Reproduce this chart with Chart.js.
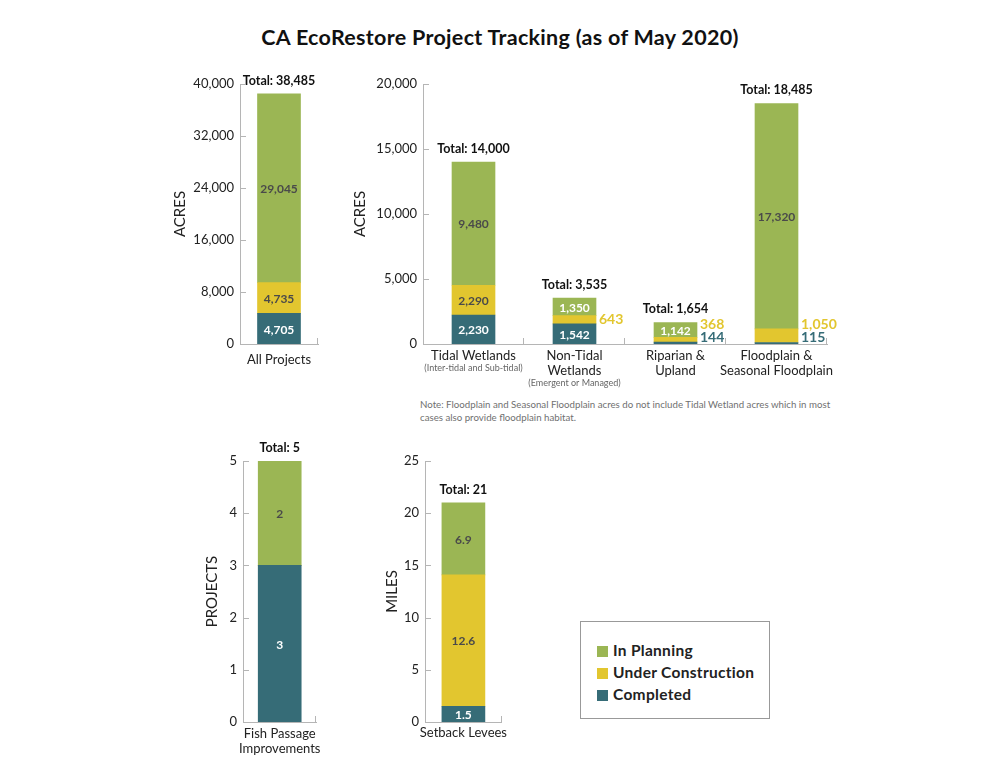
<!DOCTYPE html>
<html>
<head>
<meta charset="utf-8">
<script src="https://cdn.jsdelivr.net/npm/chart.js@4.4.1/dist/chart.umd.min.js"></script>
<style>
  body { margin: 0; background: #fff; font-family: Lato, sans-serif; }
  #page { position: relative; width: 1000px; height: 773px; overflow: hidden; }
  #page canvas { position: absolute; }
  h1 { position: absolute; left: 0; top: 24px; width: 1000px; margin: 0; text-align: center;
       font-size: 21.5px; letter-spacing: 0.3px; font-weight: 700; color: #111; }
  #note { position: absolute; left: 420px; top: 398px; font-size: 9.7px; line-height: 13px; color: #707070; }
  #legend { position: absolute; left: 580px; top: 621px; width: 188px; height: 96px; border: 1px solid #999; }
  .item { position: absolute; left: 16px; height: 16px; font-size: 15.5px; letter-spacing: 0.3px; font-weight: 700;
          color: #222; line-height: 16px; }
  .item span { display: inline-block; width: 11px; height: 11px; margin-right: 5px; vertical-align: -1px; }
</style>
</head>
<body>
<div id="page">
  <h1>CA EcoRestore Project Tracking (as of May 2020)</h1>
  <canvas id="c1" width="180" height="330" style="left:150px;top:60px"></canvas>
  <canvas id="c2" width="520" height="330" style="left:330px;top:60px"></canvas>
  <canvas id="c3" width="170" height="330" style="left:160px;top:440px"></canvas>
  <canvas id="c4" width="175" height="330" style="left:340px;top:440px"></canvas>
  <div id="note">Note: Floodplain and Seasonal Floodplain acres do not include Tidal Wetland acres which in most<br>cases also provide floodplain habitat.</div>
  <div id="legend"></div>
</div>
<script>
const seriesNames = ["In Planning", "Under Construction", "Completed"];
const seriesColors = ["#9bb654", "#e2c62f", "#366c77"];

// All projects (acres)
const allCategories = ["All Projects"];
const allPlanning = [29045];
const allConstruction = [4735];
const allCompleted = [4705];

// By habitat type (acres)
const habitatCategories = ["Tidal Wetlands", ["Non-Tidal", "Wetlands"], ["Riparian &", "Upland"], ["Floodplain &", "Seasonal Floodplain"]];
const habitatSubLabels = ["(Inter-tidal and Sub-tidal)", "(Emergent or Managed)", "", ""];
const habitatPlanning = [9480, 1350, 1142, 17320];
const habitatConstruction = [2290, 643, 368, 1050];
const habitatCompleted = [2230, 1542, 144, 115];

// Fish passage (projects)
const fishCategories = [["Fish Passage", "Improvements"]];
const fishPlanning = [2];
const fishConstruction = [0];
const fishCompleted = [3];

// Setback levees (miles)
const leveeCategories = ["Setback Levees"];
const leveePlanning = [6.9];
const leveeConstruction = [12.6];
const leveeCompleted = [1.5];

const fmt = v => v.toLocaleString("en-US");

const valueLabels = {
    id: "valueLabels",
    afterDatasetsDraw(chart) {
        const ctx = chart.ctx;
        const yScale = chart.scales.y;
        ctx.save();
        chart.data.labels.forEach((lab, i) => {
            let outsideY = yScale.bottom - 7;
            let total = 0, topY = yScale.bottom, barX = 0, barRight = 0;
            chart.data.datasets.forEach((ds, d) => {
                const el = chart.getDatasetMeta(d).data[i];
                const v = ds.data[i];
                total += v;
                barX = el.x;
                barRight = el.x + el.width / 2;
                topY = Math.min(topY, el.y);
                if (!v) return;
                const h = el.base - el.y;
                const mid = (el.base + el.y) / 2;
                ctx.textBaseline = "middle";
                if (h >= 14) {
                    ctx.font = "bold 12px Lato";
                    ctx.textAlign = "center";
                    let c = "#4a4a4a";
                    if (ds.label === "Completed" || h < 18) c = "#ffffff";
                    ctx.fillStyle = c;
                    ctx.fillText(fmt(v), el.x, mid + 1);
                } else {
                    const y = Math.min(mid, outsideY);
                    ctx.font = "bold 14px Lato";
                    ctx.textAlign = "left";
                    ctx.fillStyle = ds.backgroundColor;
                    ctx.fillText(fmt(v), barRight + 3, y);
                    outsideY = y - 13;
                }
            });
            ctx.font = "bold 12.5px Lato";
            ctx.fillStyle = "#111";
            ctx.textAlign = "center";
            ctx.textBaseline = "bottom";
            ctx.fillText("Total: " + fmt(Math.round(total * 10) / 10), barX, topY - 7);
        });
        ctx.restore();
    }
};

// inward tick marks on both axes, plus small sub-labels under categories
const axisMarks = {
    id: "axisMarks",
    afterDraw(chart, args, opts) {
        const { ctx, chartArea, scales } = chart;
        const n = chart.data.labels.length;
        const w = (chartArea.right - chartArea.left) / n;
        ctx.save();
        ctx.strokeStyle = "#b5b5b5";
        ctx.lineWidth = 1;
        for (let i = 1; i <= n; i++) {
            const x = Math.round(chartArea.left + i * w) - 0.5;
            ctx.beginPath();
            ctx.moveTo(x, chartArea.bottom - 6);
            ctx.lineTo(x, chartArea.bottom);
            ctx.stroke();
        }
        scales.y.ticks.forEach(t => {
            const y = Math.round(scales.y.getPixelForValue(t.value)) + 0.5;
            ctx.beginPath();
            ctx.moveTo(chartArea.left, y);
            ctx.lineTo(chartArea.left + 6, y);
            ctx.stroke();
        });
        if (opts.sub) {
            ctx.font = "9px Lato";
            ctx.fillStyle = "#666";
            ctx.textAlign = "center";
            ctx.textBaseline = "middle";
            opts.sub.forEach((s, i) => {
                if (!s) return;
                const lab = chart.data.labels[i];
                const lines = Array.isArray(lab) ? lab.length : 1;
                const x = scales.x.getPixelForTick(i);
                ctx.fillText(s, x, chartArea.bottom + 24 + 15 * (lines - 1));
            });
        }
        ctx.restore();
    }
};

function buildChart(id, labels, completed, construction, planning, yMax, yStep, yTitle, lay) {
    const stacks = [completed, construction, planning];
    const order = [2, 1, 0];
    new Chart(document.getElementById(id), {
        type: "bar",
        data: {
            labels: labels,
            datasets: order.map((s, k) => ({
                label: seriesNames[s],
                data: stacks[k],
                backgroundColor: seriesColors[s],
                barThickness: 43
            }))
        },
        options: {
            responsive: false,
            animation: false,
            layout: { padding: { top: lay.top, right: lay.right, left: 0, bottom: 0 } },
            plugins: {
                legend: { display: false },
                tooltip: { enabled: false },
                axisMarks: { sub: lay.sub }
            },
            scales: {
                x: {
                    stacked: true,
                    grid: { display: false, drawTicks: false },
                    border: { color: "#b5b5b5" },
                    ticks: {
                        color: "#222", font: { family: "Lato", size: 13, lineHeight: 1.1 }, padding: lay.xPad,
                        maxRotation: 0, minRotation: 0, autoSkip: false, crossAlign: "near"
                    },
                    afterFit: s => { s.height = lay.xH; }
                },
                y: {
                    stacked: true,
                    min: 0, max: yMax,
                    grid: { display: false, drawTicks: false },
                    border: { color: "#b5b5b5" },
                    ticks: {
                        stepSize: yStep, padding: 6, color: "#222",
                        font: { family: "Lato", size: 13 },
                        callback: v => fmt(v)
                    },
                    title: {
                        display: true, text: yTitle, color: "#222",
                        font: { family: "Lato", size: 15 },
                        padding: { top: lay.tPad, bottom: 0 }
                    },
                    afterFit: s => { s.width = lay.yW; }
                }
            }
        },
        plugins: [valueLabels, axisMarks]
    });
}

buildChart("c1", allCategories, allCompleted, allConstruction, allPlanning, 40000, 8000, "ACRES",
    { top: 24, right: 12, xH: 46, yW: 90, tPad: 21, xPad: 9 });
buildChart("c2", habitatCategories, habitatCompleted, habitatConstruction, habitatPlanning, 20000, 5000, "ACRES",
    { top: 24, right: 23, xH: 46, yW: 93, tPad: 21, xPad: 5, sub: habitatSubLabels });
buildChart("c3", fishCategories, fishCompleted, fishConstruction, fishPlanning, 5, 1, "PROJECTS",
    { top: 21, right: 9, xH: 48, yW: 83, tPad: 43, xPad: 5 });
buildChart("c4", leveeCategories, leveeCompleted, leveeConstruction, leveePlanning, 25, 5, "MILES",
    { top: 21, right: 8, xH: 48, yW: 85, tPad: 43, xPad: 4 });

const legendBox = document.getElementById("legend");
seriesNames.forEach((name, i) => {
    const row = document.createElement("div");
    row.className = "item";
    row.style.top = (20 + i * 22) + "px";
    row.innerHTML = '<span style="background:' + seriesColors[i] + '"></span>' + name;
    legendBox.appendChild(row);
});
</script>
</body>
</html>
